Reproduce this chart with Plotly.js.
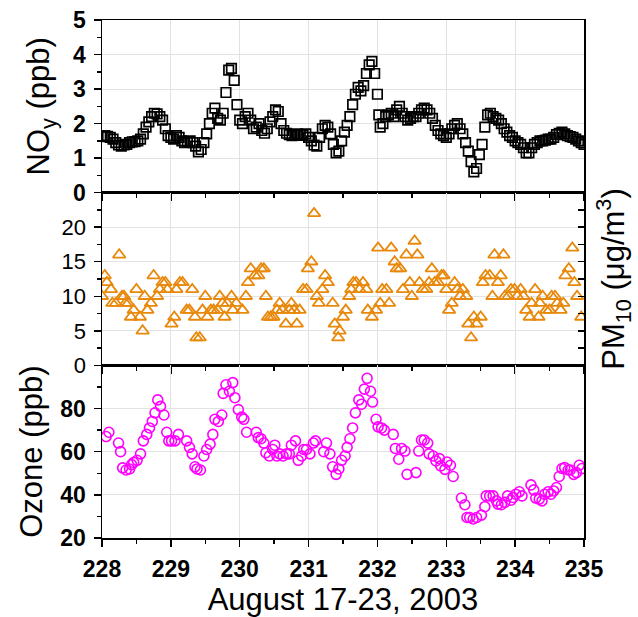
<!DOCTYPE html>
<html>
<head>
<meta charset="utf-8">
<script src="https://cdn.plot.ly/plotly-3.0.1.min.js"></script>
<style>html,body{margin:0;padding:0;background:#fff;}#chart{width:638px;height:617px;}</style>
</head>
<body>
<div id="chart"></div>
<script>
// ---- NOy (ppb), top panel ----
const noyDay = [228.00,228.04,228.08,228.12,228.16,228.20,228.24,228.28,228.32,228.36,228.40,228.44,228.48,228.52,228.56,228.60,228.64,228.68,228.72,228.76,228.80,228.84,228.88,228.92,228.96,
229.00,229.04,229.08,229.12,229.16,229.20,229.24,229.28,229.32,229.36,229.40,229.44,229.48,229.52,229.56,229.60,229.64,229.68,229.72,229.76,229.80,229.84,229.88,229.92,229.96,
230.00,230.04,230.08,230.12,230.16,230.20,230.24,230.28,230.32,230.36,230.40,230.44,230.48,230.52,230.56,230.60,230.64,230.68,230.72,230.76,230.80,230.84,230.88,230.92,230.96,
231.00,231.04,231.08,231.12,231.16,231.20,231.24,231.28,231.32,231.36,231.40,231.44,231.48,231.52,231.56,231.60,231.64,231.68,231.72,231.76,231.80,231.84,231.88,231.92,231.96,
232.00,232.02,232.04,232.08,232.12,232.16,232.20,232.24,232.28,232.32,232.36,232.40,232.44,232.48,232.52,232.56,232.60,232.64,232.68,232.72,232.76,232.80,232.84,232.88,232.92,232.96,
233.00,233.04,233.08,233.12,233.16,233.20,233.24,233.28,233.32,233.36,233.40,233.44,233.48,233.52,233.56,233.60,233.64,233.68,233.72,233.76,233.80,233.84,233.88,233.92,233.96,
234.00,234.04,234.08,234.12,234.16,234.20,234.24,234.28,234.32,234.36,234.40,234.44,234.48,234.52,234.56,234.60,234.64,234.68,234.72,234.76,234.80,234.84,234.88,234.92,234.96,235.00];
const noyVal = [1.62,1.65,1.63,1.60,1.55,1.45,1.38,1.35,1.38,1.40,1.45,1.47,1.48,1.50,1.55,1.70,1.90,2.05,2.20,2.30,2.28,2.20,2.10,1.85,1.65,
1.60,1.55,1.65,1.60,1.50,1.45,1.48,1.50,1.45,1.35,1.18,1.25,1.45,1.70,2.00,2.30,2.45,2.15,2.10,2.30,2.90,3.55,3.60,3.25,2.55,
2.10,2.00,2.20,2.30,2.10,1.85,1.90,2.00,1.80,1.72,1.85,2.05,2.20,2.40,2.35,2.00,1.80,1.72,1.68,1.65,1.68,1.70,1.68,1.66,1.70,
1.60,1.50,1.38,1.35,1.60,1.85,1.95,1.90,1.70,1.40,1.15,1.20,1.50,1.75,1.95,2.20,2.55,2.85,3.05,2.95,3.10,3.45,3.70,3.80,3.45,
2.85,2.25,1.90,2.00,2.20,2.25,2.30,2.20,2.40,2.50,2.30,2.20,2.10,2.15,2.20,2.20,2.30,2.40,2.45,2.40,2.30,2.15,1.95,1.80,1.70,1.65,
1.60,1.70,1.85,1.95,2.00,1.85,1.70,1.45,1.20,0.90,0.60,0.70,1.10,1.40,1.90,2.25,2.30,2.20,2.15,2.10,2.00,1.85,1.75,1.65,1.60,
1.50,1.45,1.40,1.30,1.15,1.15,1.30,1.40,1.45,1.50,1.50,1.52,1.55,1.55,1.60,1.68,1.72,1.75,1.70,1.65,1.62,1.60,1.55,1.50,1.45,1.40];

// ---- PM10 (ug/m3), middle panel ----
const pmDay = [228.00,228.04,228.07,228.13,228.15,228.20,228.25,228.29,228.32,228.34,228.38,228.42,228.46,228.50,228.55,228.59,228.62,228.66,228.71,228.75,228.80,228.84,228.88,228.92,228.95,
229.01,229.05,229.08,229.13,229.17,229.23,229.27,229.31,229.35,229.37,229.42,229.46,229.50,229.53,229.58,229.62,229.68,229.71,229.75,229.78,229.82,229.88,229.90,229.95,
230.04,230.09,230.12,230.16,230.22,230.27,230.31,230.35,230.38,230.41,230.45,230.49,230.54,230.58,230.62,230.67,230.72,230.75,230.79,230.83,230.87,230.92,230.97,230.99,
231.04,231.08,231.12,231.15,231.20,231.24,231.28,231.35,231.38,231.43,231.45,231.50,231.54,231.59,231.62,231.65,231.69,231.74,231.79,231.84,231.86,231.92,231.98,
232.01,232.04,232.07,232.13,232.17,232.20,232.25,232.28,232.33,232.37,232.42,232.47,232.50,232.54,232.58,232.61,232.66,232.71,232.75,232.79,232.83,232.88,232.93,232.96,
233.00,233.04,233.08,233.12,233.16,233.20,233.24,233.29,233.32,233.36,233.40,233.44,233.50,233.53,233.57,233.63,233.67,233.70,233.75,233.79,233.83,233.85,233.90,233.94,233.99,
234.03,234.08,234.12,234.16,234.21,234.24,234.29,234.34,234.36,234.40,234.45,234.50,234.53,234.58,234.61,234.66,234.70,234.73,234.78,234.83,234.86,234.90,234.96];
const pmVal = [10,13,12,11,9,9,16,10,10,9,9,7,8,11,7,5,10,8,9,13,10,11,12,12,11,
6,7,11,12,12,8,8,11,7,4,4,8,10,7,8,8,8,10,9,7,9,10,8,9,
8,10,12,14,13,13,14,14,10,7,7,7,8,9,8,6,8,9,8,6,8,11,11,14,
15,22,10,9,11,13,12,9,6,4,5,7,8,10,11,12,12,11,12,11,8,7,8,
17,9,11,11,9,17,15,14,14,11,16,12,10,18,16,12,11,11,12,14,12,12,13,13,
11,8,9,12,11,10,11,10,6,4,7,6,7,12,13,13,10,16,12,13,16,10,10,11,11,
10,11,10,8,7,9,11,7,9,10,8,8,10,10,9,8,9,13,14,17,12,10,7];

// ---- Ozone (ppb), bottom panel ----
const o3Day = [228.06,228.10,228.24,228.27,228.30,228.35,228.40,228.43,228.46,228.51,228.56,228.60,228.65,228.69,228.73,228.77,228.81,228.85,228.90,228.94,228.97,
229.01,229.06,229.11,229.23,229.27,229.31,229.35,229.38,229.43,229.48,229.52,229.57,229.61,229.64,229.69,229.74,229.76,229.80,229.85,229.90,229.93,229.98,
230.03,230.06,230.10,230.24,230.27,230.31,230.35,230.38,230.43,230.48,230.51,230.54,230.58,230.63,230.68,230.72,230.75,230.81,230.85,230.90,230.93,230.97,
231.02,231.07,231.10,231.22,231.26,231.31,231.35,231.40,231.44,231.48,231.53,231.56,231.60,231.64,231.68,231.73,231.77,231.81,231.85,231.90,231.93,231.98,
232.01,232.06,232.10,232.23,232.26,232.31,232.35,232.40,232.43,232.56,232.60,232.64,232.68,232.73,232.75,232.81,232.85,232.90,232.92,232.98,
233.01,233.06,233.10,233.22,233.27,233.30,233.34,233.39,233.44,233.51,233.56,233.58,233.63,233.68,233.73,233.75,233.80,233.85,233.89,233.94,233.97,
234.01,234.06,234.10,234.23,234.27,234.30,234.35,234.39,234.43,234.48,234.52,234.56,234.60,234.64,234.68,234.72,234.77,234.80,234.85,234.89,234.93,234.97];
const o3Val = [67,69,64,60,52.5,51.5,52,54,55,56,59,65,68,71,74,78,84,81,77,69,65,
65,65,68,65,62,59,53,52,51.5,58,61,63.5,68,75,74,77,87,91,88,92,85,79.5,
76,75,69,69,66.5,66,64,59.5,58,61,63,58,59,58,59,59,63,65,56,58,61,61,
59,64,65,60,64,59,53,49.5,52,56,58,62,66,71,78,84,82,89,94,88,83,75,
71.5,71,70,68,61.5,56.5,61.5,60.3,49.5,50.3,60.3,65.4,65.4,64,59,58,55.7,56.8,53.4,51.8,
55.2,53.7,48.5,38.5,35.4,29.5,29.5,28.8,29.5,30.6,34.5,39.5,39.5,39.5,37.2,35.7,35.4,36.5,39.5,37.5,38.8,
40.3,41.4,39.5,44.6,42.3,38.5,38,37.2,40.3,41.4,40.3,41.8,43.4,48.5,52.2,52.6,51.5,51.5,49.5,50.3,53.7,52.2];

// ---- axis ticks ----
const dayTicks = [228,229,230,231,232,233,234,235];
const noyTicks = [0,1,2,3,4,5];
const pmTicks = [0,5,10,15,20];
const o3Ticks = [20,40,60,80];

const FONT = 'Liberation Sans, Arial, sans-serif';
const grid = '#e2e2e2';

function xAx(anchor, showLabels) {
  return {
    anchor: anchor, range: [228, 235], tickvals: dayTicks, ticktext: dayTicks.map(v => '<b>' + v + '</b>'),
    showticklabels: showLabels, ticks: 'outside', ticklen: 7, tickwidth: 1.5, tickcolor: '#000',
    minor: {dtick: 0.5, tick0: 228, ticks: 'outside', ticklen: 4, tickwidth: 1.5, tickcolor: '#000', showgrid: false},
    showline: true, linecolor: '#000', linewidth: 1.5, mirror: true,
    showgrid: true, gridcolor: grid, gridwidth: 1, zeroline: false,
    tickfont: {family: FONT, size: 23, color: '#000'},
    ticklabelstandoff: 3
  };
}
function yAx(domain, range, ticks, minorDtick, bold) {
  return {
    domain: domain, range: range, tickvals: ticks,
    ticktext: ticks.map(v => bold ? '<b>' + v + '</b>' : String(v)),
    ticks: 'outside', ticklen: 7, tickwidth: 1.5, tickcolor: '#000',
    minor: {dtick: minorDtick, tick0: range[0], ticks: 'outside', ticklen: 4, tickwidth: 1.5, tickcolor: '#000', showgrid: false},
    showline: true, linecolor: '#000', linewidth: 1.5, mirror: true,
    showgrid: true, gridcolor: grid, gridwidth: 1, zeroline: false,
    tickfont: {family: FONT, size: bold ? 23 : 22, color: '#000'},
    ticklabelstandoff: 3
  };
}

const traces = [
  {x: noyDay, y: noyVal, xaxis: 'x', yaxis: 'y', type: 'scatter', mode: 'markers',
   marker: {symbol: 'square-open', size: 9.5, color: '#000', line: {width: 1.7, color: '#000'}}, hoverinfo: 'x+y'},
  {x: pmDay, y: pmVal, xaxis: 'x2', yaxis: 'y2', type: 'scatter', mode: 'markers',
   marker: {symbol: 'triangle-up-open', size: 11, color: '#E8890C', line: {width: 1.8, color: '#E8890C'}}, hoverinfo: 'x+y'},
  {x: o3Day, y: o3Val, xaxis: 'x3', yaxis: 'y3', type: 'scatter', mode: 'markers',
   marker: {symbol: 'circle-open', size: 10, color: '#FF00FF', line: {width: 1.6, color: '#FF00FF'}}, hoverinfo: 'x+y'},
  {x: [], y: [], xaxis: 'x2', yaxis: 'y4', type: 'scatter', mode: 'markers', showlegend: false, hoverinfo: 'skip'}
];

const yTop = yAx([0.6667, 1], [0, 5], noyTicks, 0.5, true);
yTop.title = {text: 'NO<sub>y</sub> (ppb)', font: {family: FONT, size: 31, color: '#000'}, standoff: 14};
const yMid = yAx([0.3333, 0.6667], [0, 25], pmTicks, 2.5, false);
const yBot = yAx([0, 0.3333], [20, 100], o3Ticks, 10, true);
yBot.title = {text: 'Ozone (ppb)', font: {family: FONT, size: 31, color: '#000'}, standoff: 8};

const xBot = xAx('y3', true);
xBot.title = {text: 'August 17-23, 2003', font: {family: FONT, size: 31, color: '#000'}, standoff: 18};

const layout = {
  width: 638, height: 617,
  margin: {l: 102, r: 54, t: 20, b: 79},
  paper_bgcolor: '#fff', plot_bgcolor: '#fff',
  showlegend: false,
  xaxis: Object.assign(xAx('y', false), {matches: 'x3'}),
  xaxis2: Object.assign(xAx('y2', false), {matches: 'x3'}),
  xaxis3: xBot,
  yaxis: yTop,
  yaxis2: yMid,
  yaxis3: yBot,
  yaxis4: {
    overlaying: 'y2', side: 'right', anchor: 'x2', range: [0, 25],
    tickvals: [0, 2.5, 5, 7.5, 10, 12.5, 15, 17.5, 20, 22.5], showticklabels: false,
    ticks: 'inside', ticklen: 6, tickwidth: 1.5, tickcolor: '#000',
    showgrid: false, zeroline: false, showline: false,
    title: {text: 'PM<sub>10</sub> (μg/m<sup>3</sup>)', font: {family: FONT, size: 31, color: '#000'}, standoff: 18}
  }
};

Plotly.newPlot('chart', traces, layout, {displayModeBar: false, staticPlot: true});
</script>
</body>
</html>
